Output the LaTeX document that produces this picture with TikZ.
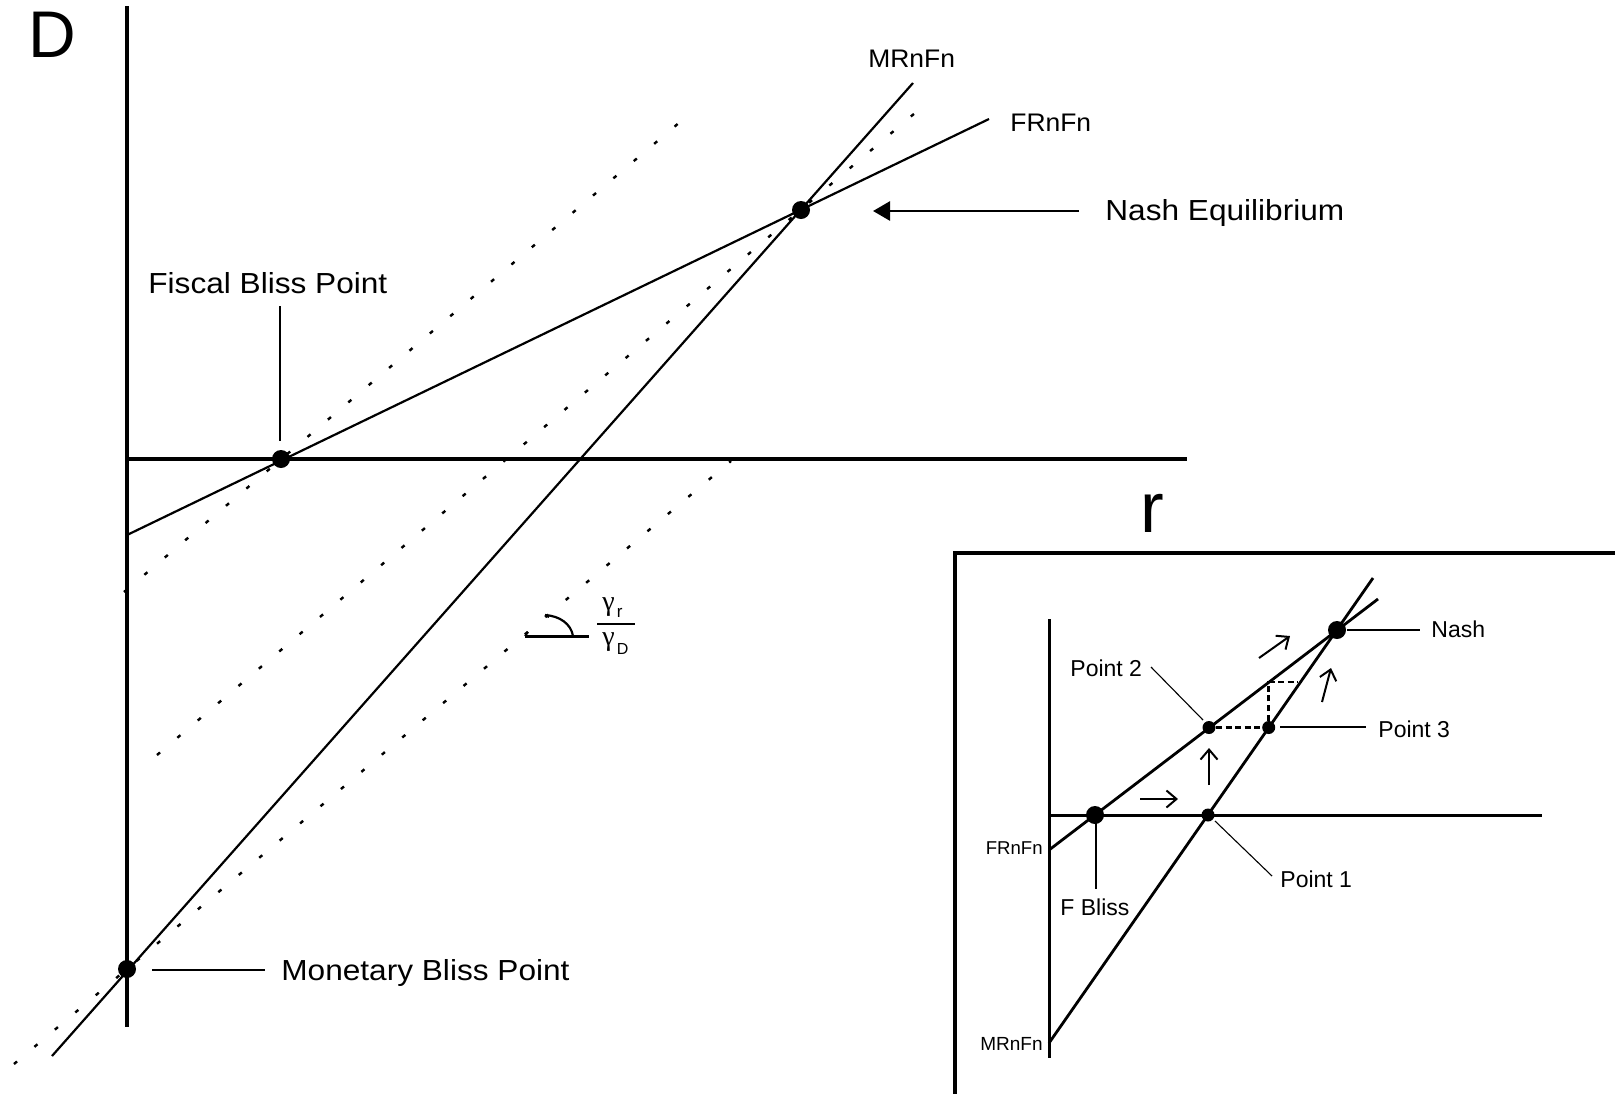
\documentclass[tikz,border=0pt]{standalone}
\usepackage{fontspec}
\setmainfont{Liberation Sans}
\newfontfamily\greekfont{Liberation Serif}
\usetikzlibrary{arrows.meta}
\newcommand\wider[2][1.09]{\scalebox{#1}[1]{#2}}
\tikzset{
  axisline/.style={line width=1.65pt},
  curve/.style={line width=1.1pt},
  guide/.style={line width=1.2pt, dash pattern=on 2pt off 11.35pt},
  leader/.style={line width=0.55pt},
  bigdot/.style={circle, fill=black, inner sep=0pt, minimum size=9pt},
  smalldot/.style={circle, fill=black, inner sep=0pt, minimum size=6.5pt},
  lbl/.style={inner sep=0pt, anchor=base west},
  biglbl/.style={lbl, font=\fontsize{14.5}{17}\selectfont},
  insetlbl/.style={lbl, font=\fontsize{11.5}{14}\selectfont},
  inaxis/.style={line width=1.5pt},
  incurve/.style={line width=1.4pt},
  stepline/.style={line width=1.25pt, dash pattern=on 3pt off 1.8pt},
  moveto/.style={line width=1pt, -{Straight Barb[length=5pt,width=8.5pt]}},
}
\begin{document}
\begin{tikzpicture}[x=0.5pt, y=-0.5pt]
\useasboundingbox (0,0) rectangle (1615,1093);

% ---------------- main diagram ----------------
\coordinate (vtop) at (127,6);
\coordinate (vbot) at (127,1027);
\coordinate (hleft) at (127,459);
\coordinate (hright) at (1187,459);
\draw[axisline] (vtop) -- (vbot);
\draw[axisline] (hleft) -- (hright);

% parallel guide lines of slope gamma_r/gamma_D
\coordinate (gA1) at (124,592);  \coordinate (gA2) at (680,122);
\coordinate (gB1) at (157,755);  \coordinate (gB2) at (915,113);
\coordinate (gC1) at (14,1064);  \coordinate (gC2) at (731,461);
\draw[guide] (gA1) -- (gA2);
\draw[guide] (gB1) -- (gB2);
\draw[guide] (gC1) -- (gC2);

% reaction functions
\coordinate (frs) at (127,535);  \coordinate (fre) at (989,119);
\coordinate (mrs) at (52,1056);  \coordinate (mre) at (913,83);
\draw[curve] (frs) -- (fre);
\draw[curve] (mrs) -- (mre);

\node[bigdot] (fbliss) at (281,459) {};
\node[bigdot] (mbliss) at (127,969) {};
\node[bigdot] (nash) at (801,210) {};

\node[lbl, font=\fontsize{33}{36}\selectfont] (dlab) at (28,57) {D};
\node[lbl, font=\fontsize{35.5}{38}\selectfont] (rlab) at (1140,532) {r};

\node[lbl, font=\fontsize{12.7}{15}\selectfont] (mrlab) at (868,67.3) {\wider[1.04]{MRnFn}};
\node[lbl, font=\fontsize{12.7}{15}\selectfont] (frlab) at (1010,131) {\wider[1.04]{FRnFn}};

\node[biglbl] (fblab) at (148,293.5) {\wider{Fiscal Bliss Point}};
\coordinate (fbl1) at (280,306);  \coordinate (fbl2) at (280,441);
\draw[leader] (fbl1) -- (fbl2);

\node[biglbl] (mblab) at (281,980.5) {\wider{Monetary Bliss Point}};
\coordinate (mbl1) at (152,970);  \coordinate (mbl2) at (265,970);
\draw[leader] (mbl1) -- (mbl2);

\node[biglbl] (nelab) at (1105,220) {\wider{Nash Equilibrium}};
\coordinate (nea1) at (1079,211);  \coordinate (nea2) at (873,211);
\draw[line width=1.35pt, -{Triangle[length=8.5pt,width=9.5pt]}] (nea1) -- (nea2);

% slope marker
\coordinate (ang0) at (525,636);
\coordinate (ang1) at (589,636);
\coordinate (arc0) at (573,636);
\coordinate (arc1) at (545,615);
\draw[line width=1.5pt] (ang0) -- (ang1);
\draw[line width=1pt] (ang0) -- ++(3,-4);
\draw[line width=1.1pt] (arc0) .. controls (571,624) and (560,616) .. (arc1);
\draw[line width=1pt] (arc1) -- ++(4,2);
\coordinate (bar0) at (597,624);
\coordinate (bar1) at (635,624);
\draw[line width=0.8pt] (bar0) -- (bar1);
\node[lbl, font=\fontsize{14}{16}\greekfont] (gnum) at (602,610) {γ};
\node[lbl, font=\fontsize{8.5}{10}\selectfont] (gnumsub) at (616.5,617) {r};
\node[lbl, font=\fontsize{14}{16}\greekfont] (gden) at (602,645) {γ};
\node[lbl, font=\fontsize{8}{10}\selectfont] (gdensub) at (616.5,654) {D};

% ---------------- inset: adjustment path ----------------
\coordinate (boxb) at (955,1100);
\coordinate (boxc) at (955,553);
\coordinate (boxr) at (1620,553);
\draw[line width=1.65pt] (boxb) -- (boxc) -- (boxr);

\coordinate (ivtop) at (1049,619);  \coordinate (ivbot) at (1049,1058);
\coordinate (ihl) at (1049,815);    \coordinate (ihr) at (1542,815);
\draw[inaxis] (ivtop) -- (ivbot);
\draw[inaxis] (ihl) -- (ihr);

\coordinate (ifrs) at (1049,850);   \coordinate (ifre) at (1378,599);
\coordinate (imrs) at (1049,1043);  \coordinate (imre) at (1373,578);
\draw[incurve] (ifrs) -- (ifre);
\draw[incurve] (imrs) -- (imre);

\coordinate (stepc) at (1268.7,682);
\coordinate (stepe) at (1298,682);

\node[bigdot] (ifb) at (1095,815) {};
\node[smalldot] (pone) at (1208,815) {};
\node[smalldot] (ptwo) at (1209,727.5) {};
\node[smalldot] (pthree) at (1268.7,727.5) {};
\node[bigdot] (inash) at (1337,630) {};

\draw[stepline] (ptwo) -- (pthree) -- (stepc) -- (stepe);

% direction of adjustment
\coordinate (mv1a) at (1140,799);  \coordinate (mv1b) at (1178,799);
\coordinate (mv2a) at (1209,785);  \coordinate (mv2b) at (1209,748);
\coordinate (mv3a) at (1259,658);  \coordinate (mv3b) at (1290,636);
\coordinate (mv4a) at (1322,702);  \coordinate (mv4b) at (1331,668);
\draw[moveto] (mv1a) -- (mv1b);
\draw[moveto] (mv2a) -- (mv2b);
\draw[moveto] (mv3a) -- (mv3b);
\draw[moveto] (mv4a) -- (mv4b);

% inset labels
\coordinate (inl1) at (1347,630);  \coordinate (inl2) at (1420,630);
\draw[leader] (inl1) -- (inl2);
\node[insetlbl] (inashlab) at (1431,637) {Nash};

\coordinate (p3l1) at (1280,727);  \coordinate (p3l2) at (1366,727);
\draw[leader] (p3l1) -- (p3l2);
\node[insetlbl] (p3lab) at (1378,737) {Point 3};

\coordinate (p2l1) at (1151,667);  \coordinate (p2l2) at (1203,720);
\draw[leader] (p2l1) -- (p2l2);
\node[insetlbl] (p2lab) at (1070,676) {Point 2};

\coordinate (p1l1) at (1215,821);  \coordinate (p1l2) at (1272,876);
\draw[leader] (p1l1) -- (p1l2);
\node[insetlbl] (p1lab) at (1280,887) {Point 1};

\coordinate (fbi1) at (1096,823);  \coordinate (fbi2) at (1096,889);
\draw[leader] (fbi1) -- (fbi2);
\node[insetlbl] (ifblab) at (1060,915) {F Bliss};

\node[inner sep=0pt, anchor=base east, font=\fontsize{9.3}{11}\selectfont] (ifrlab) at (1043,854) {FRnFn};
\node[inner sep=0pt, anchor=base east, font=\fontsize{9.5}{11}\selectfont] (imrlab) at (1043,1050) {MRnFn};
\end{tikzpicture}
\end{document}
